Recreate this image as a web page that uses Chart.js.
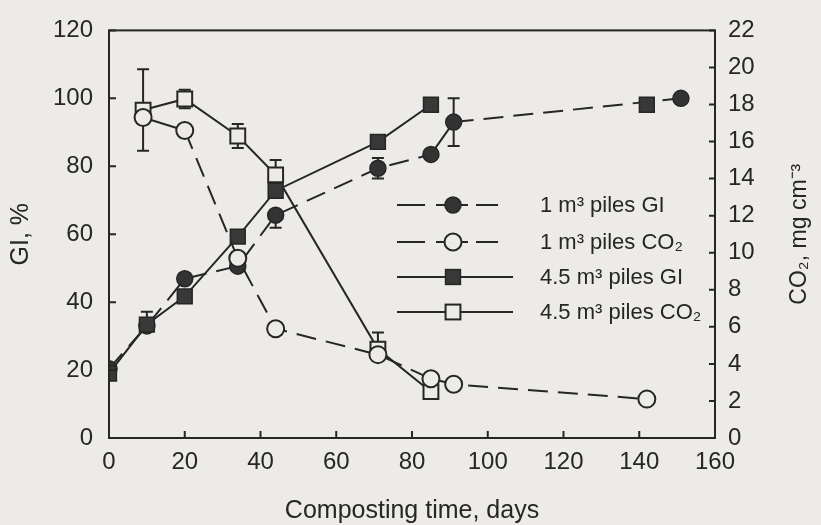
<!DOCTYPE html>
<html><head><meta charset="utf-8">
<script src="https://cdn.jsdelivr.net/npm/chart.js@4/dist/chart.umd.min.js"></script>
<style>
html,body{margin:0;padding:0;background:#ecebe7;}
#wrap{width:821px;height:525px;position:relative;}
canvas{display:block;}
</style>
</head><body>
<div id="wrap"><canvas id="c" width="821" height="525"></canvas></div>
<script>
// ---- tick labels ----
const xTicks = [0, 20, 40, 60, 80, 100, 120, 140, 160];
const giTicks = [0, 20, 40, 60, 80, 100, 120];
const co2Ticks = [0, 2, 4, 6, 8, 10, 12, 14, 16, 18, 20, 22];

// ---- series: 1 m3 piles GI ----
const gi1Days   = [0, 10, 20, 34, 44, 71, 85, 91, 151];
const gi1Values = [20.4, 33, 46.9, 50.6, 65.6, 79.4, 83.5, 93, 100];
const gi1ErrUp  = [0, 0, 0, 0, 0, 3, 0, 7, 0];
const gi1ErrDn  = [0, 0, 0, 0, 3.7, 3, 0, 7, 0];

// ---- series: 4.5 m3 piles GI ----
const gi45Days   = [0, 10, 20, 34, 44, 71, 85, 142];
const gi45Values = [19, 33.4, 41.7, 59.3, 72.8, 87.2, 98.1, 98.1];
const gi45ErrUp  = [0, 3.8, 0, 0, 0, 0, 0, 0];
const gi45ErrDn  = [0, 0, 0, 0, 0, 0, 0, 0];

// ---- series: 1 m3 piles CO2 ----
const co21Days   = [9, 20, 34, 44, 71, 85, 91, 142];
const co21Values = [17.3, 16.6, 9.7, 5.9, 4.5, 3.2, 2.9, 2.1];

// ---- series: 4.5 m3 piles CO2 ----
const co245Days   = [9, 20, 34, 44, 71, 85];
const co245Values = [17.7, 18.3, 16.3, 14.2, 4.8, 2.5];
const co245ErrUp  = [2.2, 0.5, 0.65, 0.8, 0.9, 0];
const co245ErrDn  = [2.2, 0.5, 0.65, 0, 0, 0];

// ---- labels ----
const seriesLabels = ['1 m\u00B3 piles GI', '1 m\u00B3 piles CO\u2082', '4.5 m\u00B3 piles GI', '4.5 m\u00B3 piles CO\u2082'];
const xTitle = 'Composting time, days';
const yTitle = 'GI, %';
const y2Title = 'CO\u2082, mg cm\u207B\u00B3';

const BG = '#ecebe7';
const INK = '#262626';
const FONT = '"Liberation Sans", Arial, Helvetica, sans-serif';

function pts(xs, ys){ return xs.map((x,i)=>({x:x, y:ys[i]})); }

const datasets = [
  { label: seriesLabels[0], data: pts(gi1Days, gi1Values), yAxisID:'y', order:2,
    errUp: gi1ErrUp, errDn: gi1ErrDn,
    borderColor: INK, borderWidth: 2, borderDash:[20,10],
    segment:{ borderDash: ctx => ctx.p0DataIndex === 6 ? [] : undefined },
    pointStyle:'circle', pointRadius:8, pointBackgroundColor:'#333', pointBorderColor:INK, pointBorderWidth:1.5,
    showLine:true, legendDashed:true },
  { label: seriesLabels[1], data: pts(co21Days, co21Values), yAxisID:'y2', order:0,
    borderColor: INK, borderWidth: 2, borderDash:[20,10],
    segment:{ borderDash: ctx => ctx.p0DataIndex === 0 ? [] : undefined },
    pointStyle:'circle', pointRadius:8.5, pointBackgroundColor:BG, pointBorderColor:INK, pointBorderWidth:2,
    showLine:true, legendDashed:true },
  { label: seriesLabels[2], data: pts(gi45Days, gi45Values), yAxisID:'y', order:1,
    errUp: gi45ErrUp, errDn: gi45ErrDn,
    borderColor: INK, borderWidth: 2,
    segment:{ borderColor: ctx => ctx.p0DataIndex === 6 ? 'rgba(0,0,0,0)' : undefined },
    pointStyle:'rect', pointRadius:10.5, pointBackgroundColor:'#383838', pointBorderColor:INK, pointBorderWidth:1.5,
    showLine:true, legendDashed:false },
  { label: seriesLabels[3], data: pts(co245Days, co245Values), yAxisID:'y2', order:3,
    errUp: co245ErrUp, errDn: co245ErrDn,
    borderColor: INK, borderWidth: 2,
    pointStyle:'rect', pointRadius:10.5, pointBackgroundColor:BG, pointBorderColor:INK, pointBorderWidth:2,
    showLine:true, legendDashed:false }
];

const bgPlugin = {
  id:'bg',
  beforeDraw(chart){
    const c = chart.ctx; c.save(); c.fillStyle = BG; c.fillRect(0,0,chart.width,chart.height); c.restore();
  }
};

const errPlugin = {
  id:'errbars',
  beforeDatasetsDraw(chart){
    const c = chart.ctx;
    c.save(); c.strokeStyle = INK; c.lineWidth = 2; c.setLineDash([]);
    chart.data.datasets.forEach(ds=>{
      if(!ds.errUp) return;
      const ys = chart.scales[ds.yAxisID], xs = chart.scales.x;
      ds.data.forEach((p,i)=>{
        const up = ds.errUp[i], dn = ds.errDn[i];
        if(!up && !dn) return;
        const px = xs.getPixelForValue(p.x);
        const yT = ys.getPixelForValue(p.y + up), yB = ys.getPixelForValue(p.y - dn);
        c.beginPath(); c.moveTo(px, yT); c.lineTo(px, yB);
        if(up){ c.moveTo(px-6, yT); c.lineTo(px+6, yT); }
        if(dn){ c.moveTo(px-6, yB); c.lineTo(px+6, yB); }
        c.stroke();
      });
    });
    c.restore();
  }
};

const framePlugin = {
  id:'frame',
  afterDraw(chart){
    const c = chart.ctx, a = chart.chartArea;
    c.save(); c.strokeStyle = INK; c.lineWidth = 2; c.setLineDash([]);
    c.strokeRect(a.left, a.top, a.right-a.left, a.bottom-a.top);
    c.beginPath();
    chart.scales.x.ticks.forEach(t=>{ const px = chart.scales.x.getPixelForValue(t.value); c.moveTo(px, a.bottom); c.lineTo(px, a.bottom-7); });
    chart.scales.y.ticks.forEach(t=>{ const py = chart.scales.y.getPixelForValue(t.value); c.moveTo(a.left, py); c.lineTo(a.left+7, py); });
    chart.scales.y2.ticks.forEach(t=>{ const py = chart.scales.y2.getPixelForValue(t.value); c.moveTo(a.right, py); c.lineTo(a.right-6, py); });
    c.stroke();
    // right axis title (reads bottom to top)
    c.fillStyle = INK; c.font = '23px ' + FONT; c.textAlign='center'; c.textBaseline='middle';
    c.translate(800, (a.top+a.bottom)/2); c.rotate(-Math.PI/2); c.fillText(y2Title, 0, 0);
    c.restore();
  }
};

const legendPlugin = {
  id:'customLegend',
  afterDraw(chart){
    const c = chart.ctx;
    const rows = [205, 242, 277, 312];
    chart.data.datasets.forEach((ds,i)=>{
      const y = rows[i];
      c.save(); c.strokeStyle = INK; c.lineWidth = 2; c.setLineDash([]);
      c.beginPath();
      if(ds.legendDashed){
        [[397,425],[436,445],[461,468],[476,498]].forEach(s=>{ c.moveTo(s[0],y); c.lineTo(s[1],y); });
      } else {
        c.moveTo(397,y); c.lineTo(513,y);
      }
      c.stroke();
      const mx = 453;
      c.fillStyle = ds.pointBackgroundColor; c.lineWidth = ds.pointBorderWidth;
      if(ds.pointStyle === 'circle'){
        c.beginPath(); c.arc(mx, y, ds.pointRadius, 0, Math.PI*2); c.fill(); c.stroke();
      } else {
        const h = ds.pointRadius*Math.SQRT1_2;
        c.fillRect(mx-h, y-h, 2*h, 2*h); c.strokeRect(mx-h, y-h, 2*h, 2*h);
      }
      c.fillStyle = INK; c.font = '22px ' + FONT; c.textAlign='left'; c.textBaseline='middle';
      c.fillText(ds.label, 540, y+1);
      c.restore();
    });
  }
};

new Chart(document.getElementById('c'), {
  type:'scatter',
  data:{ datasets: datasets },
  options:{
    responsive:false, animation:false,
    layout:{ padding:{ top:21, left:0, right:0, bottom:0 } },
    plugins:{ legend:{display:false}, tooltip:{enabled:false} },
    scales:{
      x:{ type:'linear', min:0, max:160, position:'bottom',
        afterBuildTicks: s => { s.ticks = xTicks.map(v=>({value:v})); },
        afterFit: s => { s.height = 87; },
        grid:{ display:false, drawTicks:false }, border:{ display:false },
        ticks:{ color:INK, font:{ family:FONT, size:24 }, padding:10, maxRotation:0, autoSkip:false },
        title:{ display:true, text:xTitle, color:INK, font:{ family:FONT, size:25, lineHeight:1 }, padding:{top:0,bottom:1} } },
      y:{ type:'linear', min:0, max:120, position:'left',
        afterBuildTicks: s => { s.ticks = giTicks.map(v=>({value:v})); },
        afterFit: s => { s.width = 109; },
        grid:{ display:false, drawTicks:false }, border:{ display:false },
        ticks:{ color:INK, font:{ family:FONT, size:24 }, padding:16, autoSkip:false },
        title:{ display:true, text:yTitle, color:INK, font:{ family:FONT, size:25, lineHeight:1 }, padding:{top:9,bottom:0} } },
      y2:{ type:'linear', min:0, max:22, position:'right',
        afterBuildTicks: s => { s.ticks = co2Ticks.map(v=>({value:v})); },
        afterFit: s => { s.width = 106; },
        grid:{ display:false, drawTicks:false }, border:{ display:false },
        ticks:{ color:INK, font:{ family:FONT, size:24 }, padding:13, autoSkip:false } }
    }
  },
  plugins:[bgPlugin, errPlugin, framePlugin, legendPlugin]
});
</script>
</body></html>
